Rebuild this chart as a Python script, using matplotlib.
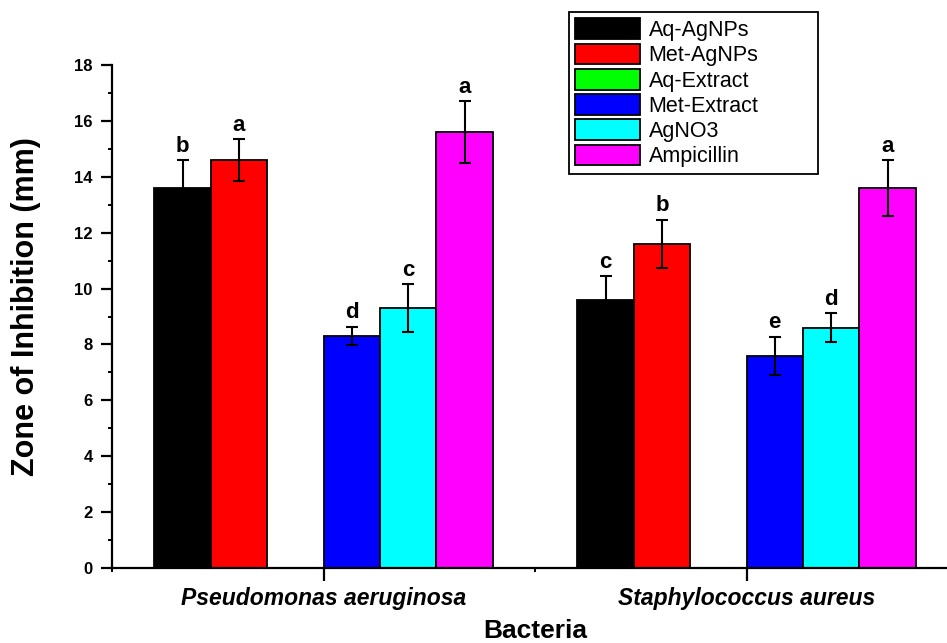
import matplotlib
matplotlib.use("Agg")
from matplotlib import pyplot as plt
import numpy as np

bacteria = ["Pseudomonas aeruginosa", "Staphylococcus aureus"]
samples = ["Aq-AgNPs", "Met-AgNPs", "Aq-Extract", "Met-Extract", "AgNO3", "Ampicillin"]
colors = ["#000000", "#ff0000", "#00ff00", "#0000ff", "#00ffff", "#ff00ff"]

# zone of inhibition (mm), one list per sample: [P. aeruginosa, S. aureus]
aq_agnps = [13.6, 9.6]
met_agnps = [14.6, 11.6]
aq_extract = [0, 0]
met_extract = [8.3, 7.6]
agno3 = [9.3, 8.6]
ampicillin = [15.6, 13.6]

aq_agnps_err = [1.0, 0.85]
met_agnps_err = [0.75, 0.87]
aq_extract_err = [0, 0]
met_extract_err = [0.33, 0.68]
agno3_err = [0.85, 0.52]
ampicillin_err = [1.1, 1.0]

aq_agnps_sig = ["b", "c"]
met_agnps_sig = ["a", "b"]
aq_extract_sig = ["", ""]
met_extract_sig = ["d", "e"]
agno3_sig = ["c", "d"]
ampicillin_sig = ["a", "a"]

values = [aq_agnps, met_agnps, aq_extract, met_extract, agno3, ampicillin]
errors = [aq_agnps_err, met_agnps_err, aq_extract_err, met_extract_err, agno3_err, ampicillin_err]
letters = [aq_agnps_sig, met_agnps_sig, aq_extract_sig, met_extract_sig, agno3_sig, ampicillin_sig]

plt.rcParams["font.family"] = "Liberation Sans"

fig = plt.figure(figsize=(9.47, 6.43), dpi=100)
ax = fig.add_axes([112/947, 75/643, 846/947, 503/643])

x = np.arange(1, len(bacteria) + 1)
w = 0.8 / len(samples)
for i in range(len(samples)):
    pos = x + (i - 2.5) * w
    ax.bar(pos, values[i], w, color=colors[i], edgecolor="black", linewidth=1.3,
           label=samples[i], zorder=2)
    has = np.array(values[i]) > 0
    if has.any():
        ax.errorbar(pos[has], np.array(values[i])[has], yerr=np.array(errors[i])[has],
                    fmt="none", ecolor="black", elinewidth=1.5, capsize=4.5,
                    capthick=1.5, zorder=3)
    for j in range(len(bacteria)):
        if letters[i][j]:
            ax.text(pos[j], values[i][j] + errors[i][j] + 0.12, letters[i][j],
                    ha="center", va="bottom", fontsize=16, fontweight="bold")

ax.set_xlim(0.5, 2.5)
ax.set_ylim(0, 18)
ax.spines["top"].set_visible(False)
ax.spines["right"].set_visible(False)
ax.spines["left"].set_linewidth(1.6)
ax.spines["bottom"].set_linewidth(1.6)

ax.set_yticks(np.arange(0, 19, 2))
ax.set_yticks(np.arange(1, 18, 2), minor=True)
ax.set_xticks(x)
ax.set_xticks([0.5, 1.5], minor=True)
ax.set_xticklabels(bacteria, fontsize=16.5, fontweight="bold", fontstyle="italic")
for t in ax.get_yticklabels():
    t.set_fontweight("bold")
ax.tick_params(axis="y", which="major", length=8, width=1.6, labelsize=12, pad=6)
ax.tick_params(axis="y", which="minor", length=3, width=1.4)
ax.tick_params(axis="x", which="major", length=9, width=1.6, pad=5)
ax.tick_params(axis="x", which="minor", length=3, width=1.4)

ax.set_ylabel("Zone of Inhibition (mm)", fontsize=22, fontweight="bold")
ax.set_xlabel("Bacteria", fontsize=19, fontweight="bold", labelpad=6)
ax.yaxis.set_label_coords(-0.084, 0.52)

leg = ax.legend(loc="upper left", bbox_to_anchor=(569/947, 466/643, 249/947, 165/643),
                bbox_transform=fig.transFigure, mode="expand", fontsize=15.5,
                handlelength=3.0, handleheight=1.1, handletextpad=0.4,
                labelspacing=0.12, borderpad=0.3, borderaxespad=0, fancybox=False,
                edgecolor="black", framealpha=1)
leg.get_frame().set_linewidth(1.3)

fig.savefig("out.png", dpi=100)
